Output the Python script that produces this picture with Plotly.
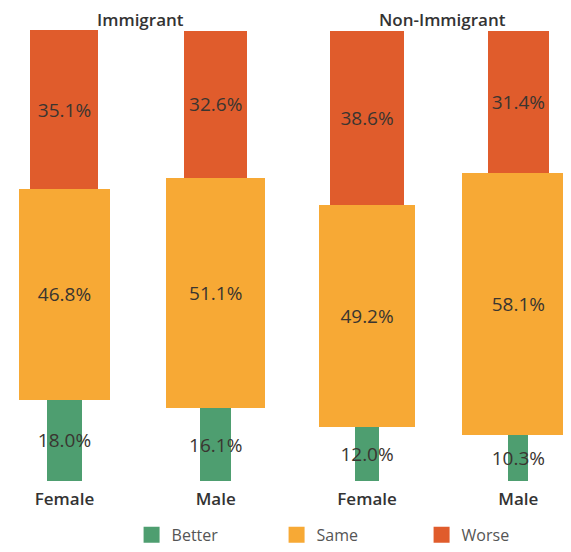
import plotly.graph_objects as go

# ---- data ----
groups = ["Immigrant", "Immigrant", "Non-Immigrant", "Non-Immigrant"]
genders = ["Female", "Male", "Female", "Male"]
better = [18.0, 16.1, 12.0, 10.3]
same = [46.8, 51.1, 49.2, 58.1]
worse = [35.1, 32.6, 38.6, 31.4]
series_names = ["Better", "Same", "Worse"]

colors = {"Better": "#4E9E70", "Same": "#F7A935", "Worse": "#E05C2C"}
WIDTH_PER_PCT = 0.01282  # bar width (x units) per percentage point
FONT = "Open Sans"
TEXT_COLOR = "#333333"

x_pos = list(range(len(genders)))

fig = go.Figure()
for name, vals in zip(series_names, [better, same, worse]):
    fig.add_trace(go.Bar(
        x=x_pos, y=vals,
        width=[v * WIDTH_PER_PCT for v in vals],
        marker=dict(color=colors[name], line=dict(width=0)),
        text=[f"{v:.1f}%" for v in vals],
        textposition="inside", insidetextanchor="middle", textangle=0,
        textfont=dict(size=19, color="#3a3530", family=FONT),
        showlegend=False, hoverinfo="skip",
    ))
for name in series_names:
    fig.add_trace(go.Scatter(
        x=[None], y=[None], mode="markers", name=name,
        marker=dict(symbol="square", size=17, color=colors[name]),
    ))

# group headers
annotations = []
for g in dict.fromkeys(groups):
    xs = [x for x, gg in zip(x_pos, groups) if gg == g]
    annotations.append(dict(
        x=sum(xs) / len(xs), xref="x", y=1, yref="paper",
        yanchor="middle", yshift=11, text=g, showarrow=False,
        font=dict(size=17, color=TEXT_COLOR, family=FONT, weight=600),
    ))

fig.update_layout(
    width=563, height=544,
    margin=dict(l=0, r=0, t=22, b=71, pad=0),
    barmode="stack",
    plot_bgcolor="white", paper_bgcolor="white",
    uniformtext=dict(minsize=19, mode="show"),
    annotations=annotations,
    xaxis=dict(
        range=[-0.373, 3.348], tickvals=x_pos, ticktext=genders,
        showgrid=False, zeroline=False, showline=False, ticks="",
        ticklabelstandoff=6,
        tickfont=dict(size=17, color=TEXT_COLOR, family=FONT, weight=600),
        fixedrange=True,
    ),
    yaxis=dict(range=[0, 100], visible=False, fixedrange=True),
    legend=dict(
        orientation="h", x=0.2195, xanchor="left", y=-0.157, yanchor="bottom",
        traceorder="normal",
        entrywidth=100, entrywidthmode="pixels",
        font=dict(size=16, color="#555555", family=FONT),
    ),
    showlegend=True,
)

fig.write_html("out.html")
